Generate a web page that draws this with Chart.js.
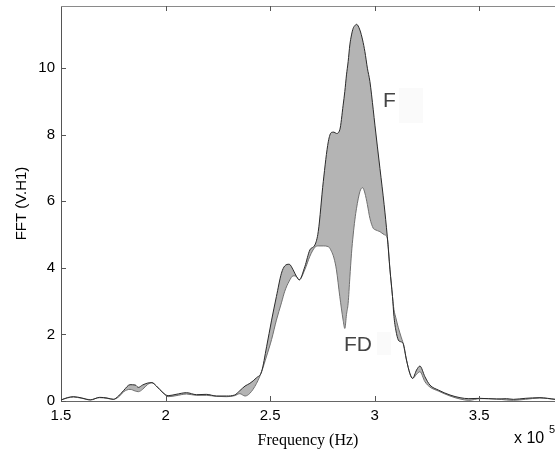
<!DOCTYPE html>
<html>
<head>
<meta charset="utf-8">
<script src="https://cdn.jsdelivr.net/npm/chart.js@4/dist/chart.umd.min.js"></script>
<style>
  html, body { margin: 0; padding: 0; background: #ffffff; overflow: hidden; }
  canvas { display: block; }
</style>
</head>
<body>
<canvas id="c" width="555" height="454"></canvas>
<script>
// Frequency in units of 1e5 Hz
const freq = [
  1.50, 1.53, 1.56, 1.60, 1.64, 1.685, 1.72, 1.75, 1.775, 1.80,
  1.83, 1.855, 1.87, 1.89, 1.915, 1.935, 1.956, 1.988, 2.012, 2.05,
  2.10, 2.148, 2.195, 2.243, 2.291, 2.33, 2.355, 2.38, 2.403, 2.435,
  2.459, 2.483, 2.507, 2.530, 2.554, 2.57, 2.591, 2.61, 2.625, 2.639,
  2.666, 2.69, 2.714, 2.73, 2.754, 2.778, 2.793, 2.805, 2.817, 2.833,
  2.849, 2.857, 2.865, 2.873, 2.881, 2.889, 2.897, 2.905, 2.913, 2.929,
  2.942, 2.953, 2.965, 2.977, 2.993, 3.001, 3.025, 3.045, 3.06, 3.073,
  3.085, 3.092, 3.101, 3.113, 3.125, 3.136, 3.152, 3.168, 3.181, 3.2,
  3.216, 3.24, 3.264, 3.304, 3.36, 3.408, 3.45, 3.503, 3.583, 3.63,
  3.663, 3.72, 3.79, 3.862
];
// F curve (upper)
const fValues = [
  0.03, 0.10, 0.13, 0.09, 0.03, 0.11, 0.09, 0.05, 0.15, 0.32,
  0.49, 0.48, 0.41, 0.48, 0.54, 0.55, 0.45, 0.25, 0.16, 0.20,
  0.25, 0.19, 0.20, 0.15, 0.15, 0.18, 0.31, 0.45, 0.53, 0.70,
  0.88, 1.63, 2.43, 3.14, 3.84, 4.06, 4.11, 3.94, 3.75, 3.64,
  4.04, 4.54, 4.69, 5.09, 6.59, 7.79, 8.07, 8.08, 8.04, 8.15,
  8.89, 9.30, 9.80, 10.20, 10.70, 11.00, 11.20, 11.28, 11.32, 11.15,
  10.85, 10.50, 10.00, 9.60, 8.75, 8.29, 6.99, 5.90, 4.95, 3.94,
  3.14, 2.54, 2.13, 1.83, 1.78, 1.73, 1.23, 0.83, 0.68, 0.93,
  1.05, 0.73, 0.48, 0.33, 0.18, 0.10, 0.07, 0.08, 0.06, 0.07,
  0.05, 0.08, 0.10, 0.05
];
// FD curve (lower)
const fdValues = [
  0.03, 0.09, 0.12, 0.08, 0.04, 0.10, 0.08, 0.05, 0.12, 0.28,
  0.35, 0.30, 0.28, 0.35, 0.50, 0.55, 0.45, 0.24, 0.13, 0.16,
  0.21, 0.17, 0.17, 0.14, 0.13, 0.16, 0.22, 0.15, 0.23, 0.53,
  0.88, 1.35, 1.85, 2.43, 2.95, 3.30, 3.60, 3.76, 3.75, 3.64,
  3.95, 4.35, 4.62, 4.66, 4.66, 4.64, 4.50, 4.30, 3.94, 3.14,
  2.43, 2.18, 2.60, 2.94, 3.70, 4.44, 4.99, 5.44, 5.79, 6.29,
  6.41, 6.25, 5.90, 5.49, 5.19, 5.15, 5.09, 5.00, 4.90, 3.94,
  3.14, 2.75, 2.50, 2.20, 1.95, 1.73, 1.23, 0.83, 0.68, 0.80,
  0.88, 0.58, 0.42, 0.30, 0.15, 0.06, 0.02, 0.07, 0.06, 0.03,
  0.02, 0.05, 0.09, 0.05
];
const xTickValues = [1.5, 2, 2.5, 3, 3.5];
const xTickLabels = ['1.5', '2', '2.5', '3', '3.5'];
const yTickValues = [0, 2, 4, 6, 8, 10];
const yTickLabels = ['0', '2', '4', '6', '8', '10'];
const seriesNames = ['F', 'FD'];
const xTitle = 'Frequency (Hz)';
const yTitle = 'FFT (V.H1)';
const xExponent = ['x 10', '5'];

const sans = '"Liberation Sans", Arial, sans-serif';
const serif = '"Liberation Serif", "Times New Roman", serif';

const overlay = {
  id: 'overlay',
  afterDraw(chart) {
    const ctx = chart.ctx;
    const a = chart.chartArea;
    const xs = chart.scales.x, ys = chart.scales.y;
    ctx.save();
    // top border
    ctx.strokeStyle = '#8a8a8a';
    ctx.lineWidth = 1;
    ctx.beginPath();
    ctx.moveTo(a.left, a.top + 0.5);
    ctx.lineTo(a.right, a.top + 0.5);
    ctx.stroke();
    // inward ticks
    ctx.strokeStyle = '#555';
    ctx.beginPath();
    xTickValues.forEach(v => {
      const px = Math.round(xs.getPixelForValue(v)) + 0.5;
      if (Math.abs(px - a.left) < 2) return;
      ctx.moveTo(px, a.bottom);
      ctx.lineTo(px, a.bottom - 5);
      ctx.moveTo(px, a.top);
      ctx.lineTo(px, a.top + 5);
    });
    yTickValues.forEach(v => {
      const py = Math.round(ys.getPixelForValue(v)) + 0.5;
      ctx.moveTo(a.left, py);
      ctx.lineTo(a.left + 5, py);
    });
    ctx.stroke();
    // faint boxes beside labels
    ctx.fillStyle = '#fafafa';
    ctx.fillRect(399, 88, 24, 35);
    ctx.fillRect(377, 332, 14, 23);
    // series labels
    ctx.fillStyle = '#444';
    ctx.font = '21px ' + sans;
    ctx.textBaseline = 'middle';
    ctx.textAlign = 'left';
    ctx.fillText(seriesNames[0], 383, 101);
    ctx.fillText(seriesNames[1], 344, 345);
    // exponent
    ctx.fillStyle = '#000';
    ctx.font = '16px ' + sans;
    ctx.fillText(xExponent[0], 514, 439);
    ctx.font = '11px ' + sans;
    ctx.fillText(xExponent[1], 549, 430);
    ctx.restore();
  }
};

new Chart(document.getElementById('c'), {
  type: 'line',
  data: {
    datasets: [
      {
        label: seriesNames[0],
        data: freq.map((x, i) => ({ x: x, y: fValues[i] })),
        borderColor: '#2a2a2a',
        borderWidth: 1,
        backgroundColor: '#b4b4b4',
        fill: '+1',
        cubicInterpolationMode: 'monotone',
        pointRadius: 0
      },
      {
        label: seriesNames[1],
        data: freq.map((x, i) => ({ x: x, y: fdValues[i] })),
        borderColor: '#707070',
        borderWidth: 1,
        fill: false,
        cubicInterpolationMode: 'monotone',
        pointRadius: 0
      }
    ]
  },
  options: {
    responsive: false,
    animation: false,
    devicePixelRatio: 1,
    layout: { padding: { top: 6, right: 0, left: 0, bottom: 0 } },
    plugins: {
      legend: { display: false },
      tooltip: { enabled: false },
      filler: { drawTime: 'beforeDatasetsDraw' }
    },
    scales: {
      x: {
        type: 'linear',
        min: 1.5,
        max: 3.862,
        afterBuildTicks: s => { s.ticks = xTickValues.map(v => ({ value: v })); },
        afterFit: s => { s.height = 53; s.paddingLeft = 0; s.paddingRight = 0; },
        grid: { display: false, drawTicks: false, tickLength: 0 },
        border: { display: true, color: '#666', width: 1 },
        ticks: {
          color: '#000',
          font: { family: sans, size: 15 },
          padding: 6,
          maxRotation: 0,
          autoSkip: false,
          callback: v => { const i = xTickValues.indexOf(v); return i >= 0 ? xTickLabels[i] : ''; }
        },
        title: {
          display: true,
          text: xTitle,
          color: '#000',
          font: { family: serif, size: 16 },
          padding: { top: 0, bottom: 4 }
        }
      },
      y: {
        type: 'linear',
        min: 0,
        max: 11.87,
        afterBuildTicks: s => { s.ticks = yTickValues.map(v => ({ value: v })); },
        afterFit: s => { s.width = 61; s.paddingTop = 0; s.paddingBottom = 0; },
        grid: { display: false, drawTicks: false, tickLength: 0 },
        border: { display: true, color: '#555', width: 1 },
        ticks: {
          color: '#000',
          font: { family: sans, size: 15 },
          padding: 6,
          autoSkip: false,
          callback: v => { const i = yTickValues.indexOf(v); return i >= 0 ? yTickLabels[i] : ''; }
        },
        title: {
          display: true,
          text: yTitle,
          color: '#000',
          font: { family: sans, size: 15 },
          padding: { top: 13, bottom: 0 }
        }
      }
    }
  },
  plugins: [overlay]
});
</script>
</body>
</html>
